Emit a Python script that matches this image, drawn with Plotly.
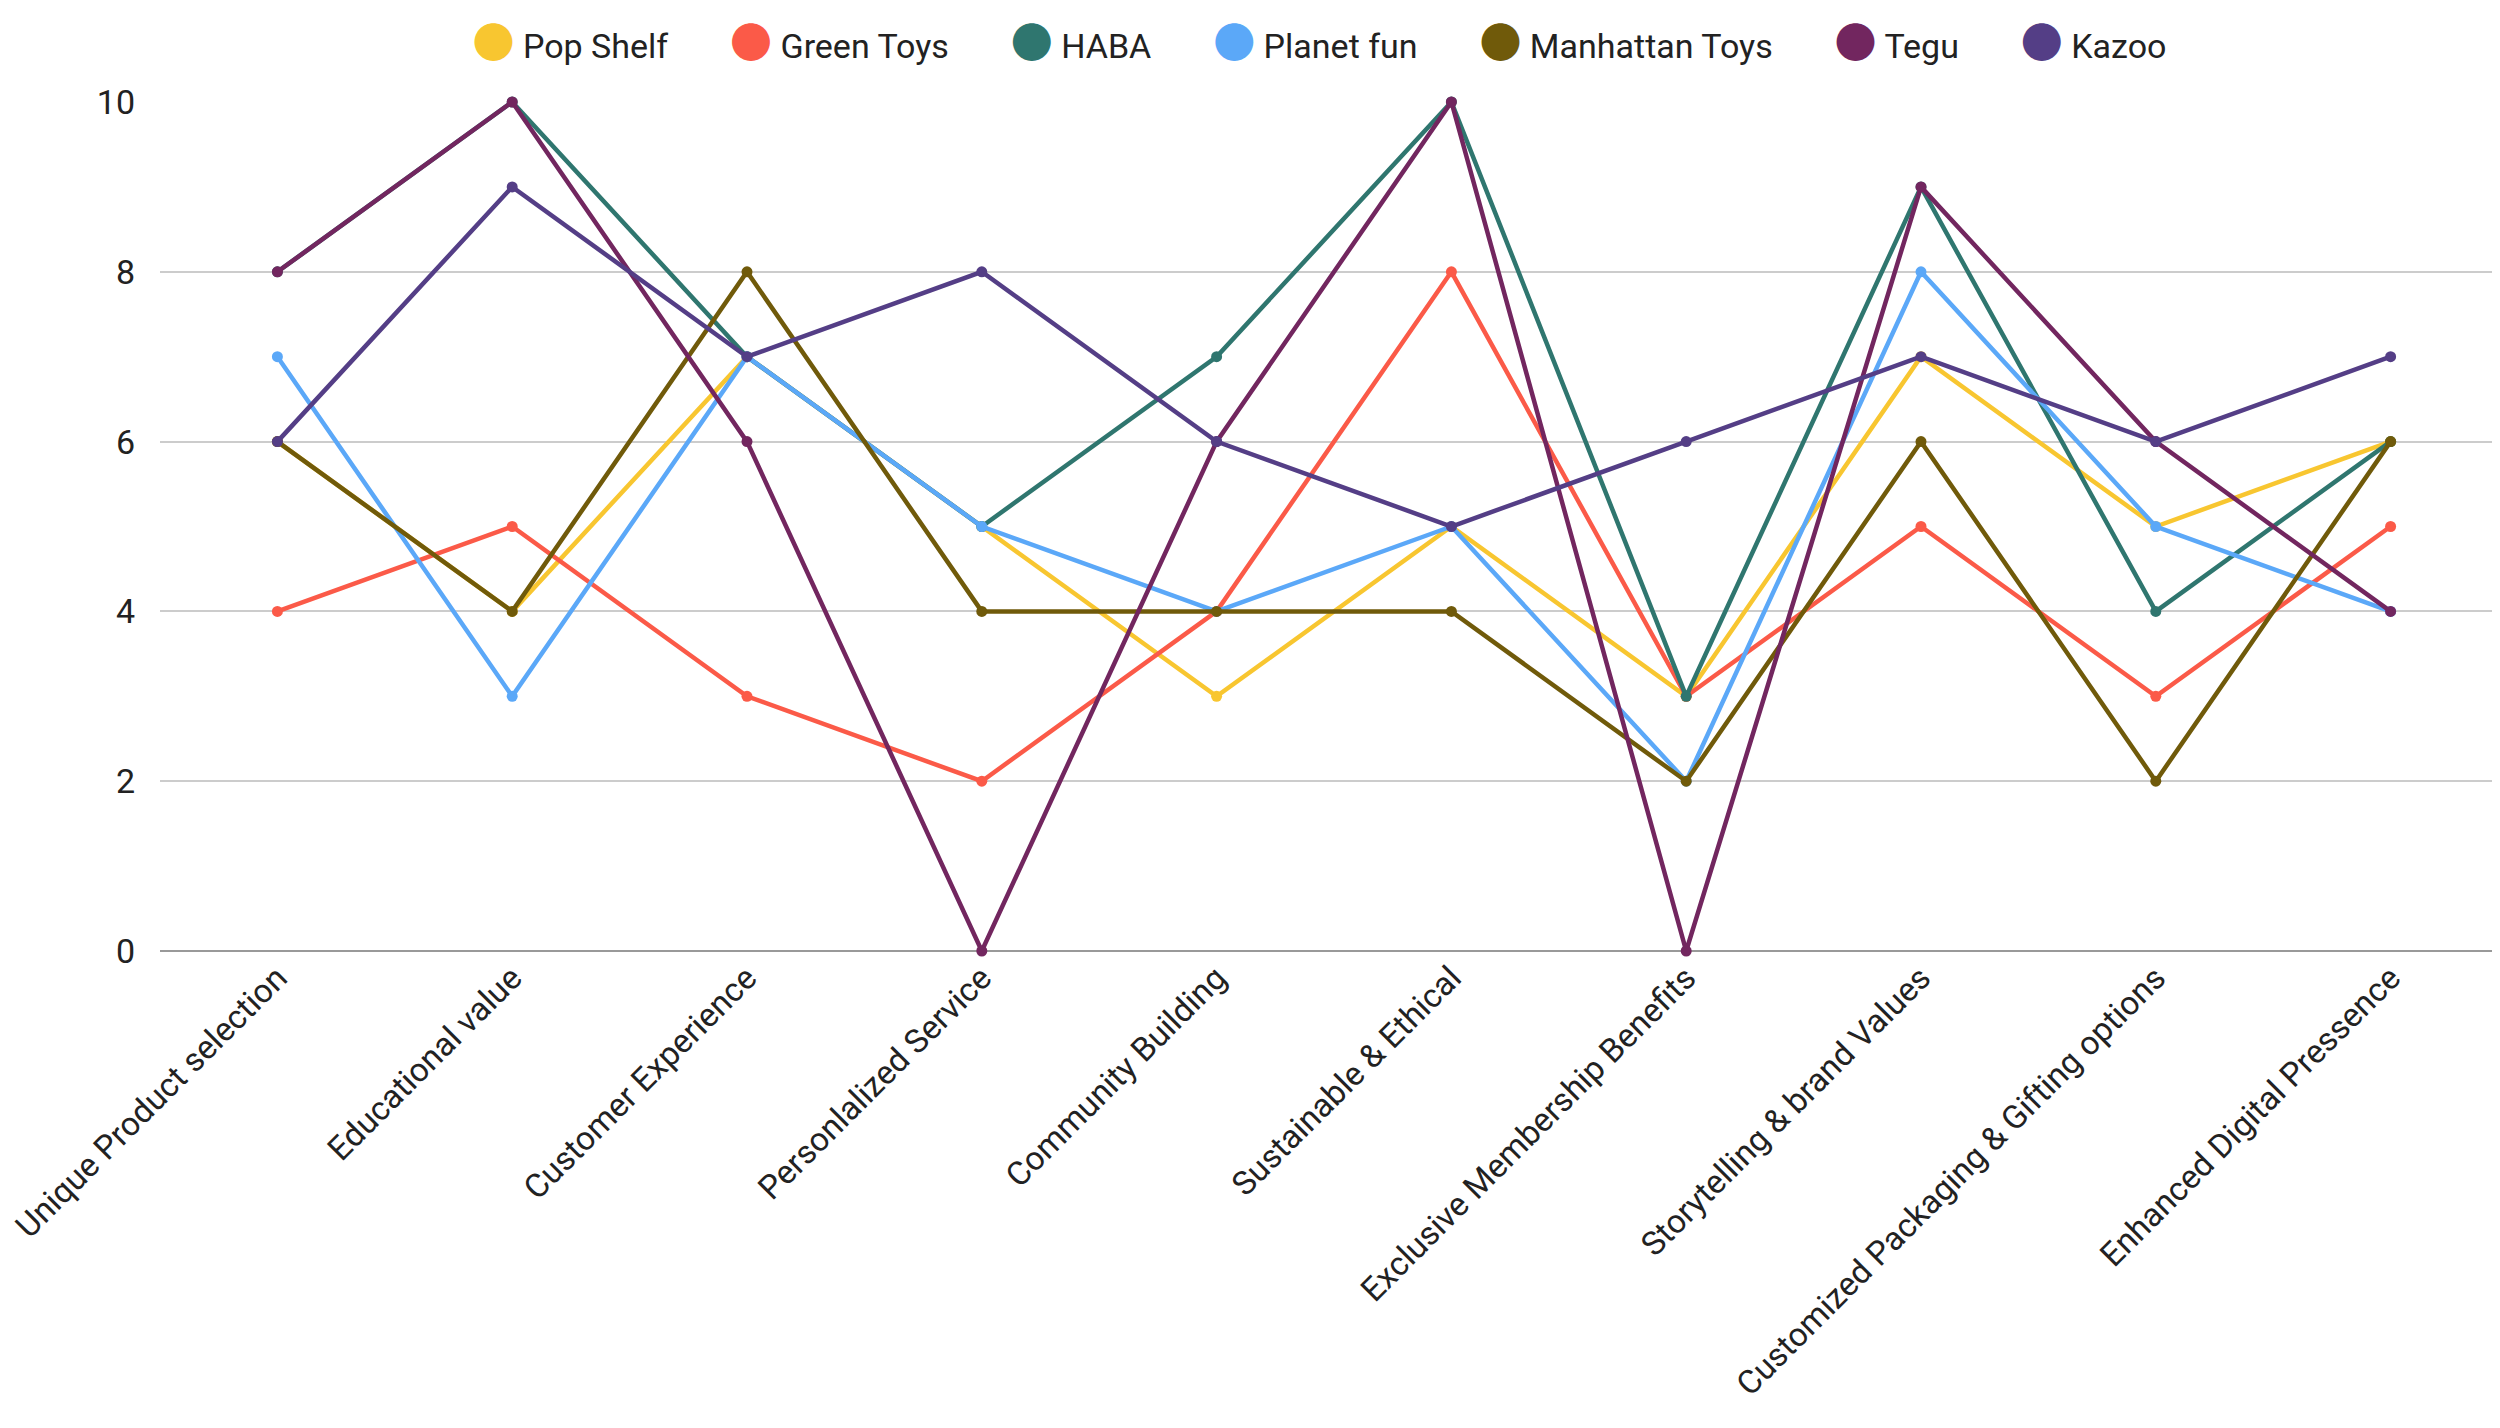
import plotly.graph_objects as go

categories = ["Unique Product selection", "Educational value", "Customer Experience",
              "Personlalized Service", "Community Building", "Sustainable & Ethical",
              "Exclusive Membership Benefits", "Storytelling & brand Values",
              "Customized Packaging & Gifting options", "Enhanced Digital Pressence"]

pop_shelf = [6, 4, 7, 5, 3, 5, 3, 7, 5, 6]
green_toys = [4, 5, 3, 2, 4, 8, 3, 5, 3, 5]
haba = [8, 10, 7, 5, 7, 10, 3, 9, 4, 6]
planet_fun = [7, 3, 7, 5, 4, 5, 2, 8, 5, 4]
manhattan_toys = [6, 4, 8, 4, 4, 4, 2, 6, 2, 6]
tegu = [8, 10, 6, 0, 6, 10, 0, 9, 6, 4]
kazoo = [6, 9, 7, 8, 6, 5, 6, 7, 6, 7]

series_names = ["Pop Shelf", "Green Toys", "HABA", "Planet fun", "Manhattan Toys", "Tegu", "Kazoo"]
series_values = [pop_shelf, green_toys, haba, planet_fun, manhattan_toys, tegu, kazoo]
colors = ["#F8C630", "#FB5A48", "#2F766F", "#5BA8F8", "#705A0A", "#72265F", "#543E86"]

y_ticks = [0, 2, 4, 6, 8, 10]

fig = go.Figure()
for name, vals, col in zip(series_names, series_values, colors):
    fig.add_trace(go.Scatter(
        x=categories, y=vals, name=name, mode="lines+markers",
        line=dict(color=col, width=4.5),
        marker=dict(color=col, size=11),
        showlegend=False, cliponaxis=False,
    ))
for name, col in zip(series_names, colors):
    fig.add_trace(go.Scatter(
        x=[None], y=[None], mode="lines",
        name=(f'<span style="font-family:Noto Sans CJK JP;font-size:42px;color:{col}">●</span>'
              f' {name}\u00a0\u00a0'),
        line=dict(color="rgba(0,0,0,0)", width=0), showlegend=True,
    ))

fig.update_layout(
    width=2500, height=1428,
    paper_bgcolor="white", plot_bgcolor="white",
    font=dict(family="Roboto", size=34, color="#222222"),
    margin=dict(l=152, r=0, t=94, b=485, autoexpand=False),
    legend=dict(orientation="h", x=0.49, xanchor="center", y=1.067, yanchor="middle",
                font=dict(size=34, color="#222222"),
                tracegroupgap=0, itemwidth=30),
    xaxis=dict(type="category", range=[-0.5, 9.5], tickangle=-45,
               showgrid=False, showline=False, ticks="", tickfont=dict(size=33)),
    yaxis=dict(range=[0, 10], tickvals=y_ticks, showgrid=True, gridcolor="#CCCCCC",
               gridwidth=2, zeroline=True, zerolinecolor="#999999", zerolinewidth=2,
               showline=False, ticks="", tickfont=dict(size=34), ticklabelstandoff=24),
)

fig.write_html("out.html")
